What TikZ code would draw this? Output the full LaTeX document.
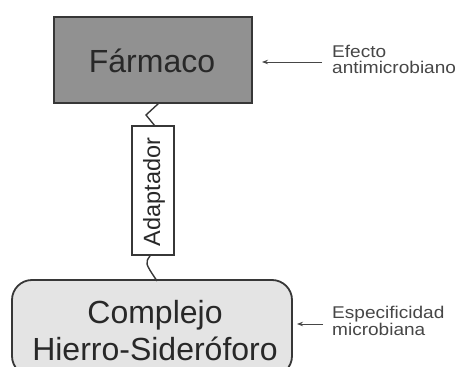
\documentclass[tikz,border=0pt]{standalone}
\usepackage{fontspec}
\setmainfont{Liberation Sans}
\newfontfamily\stretchf[FakeStretch=1.12]{Liberation Sans}
\usetikzlibrary{arrows.meta}
\definecolor{drug}{RGB}{145,145,145}
\definecolor{cplx}{RGB}{228,228,228}
\definecolor{edge}{RGB}{55,55,55}
\definecolor{txt}{RGB}{40,40,40}
\definecolor{lbl}{RGB}{70,70,70}
\begin{document}
\begin{tikzpicture}[x=1pt,y=-1pt,
  bigtext/.style={text=txt, inner sep=0pt, align=center, font=\fontsize{32}{37}\selectfont},
  boxline/.style={draw=edge, line width=1.8pt},
  side/.style={text=lbl, inner sep=0pt, align=left, anchor=west, font=\stretchf\fontsize{17}{15.6}\selectfont},
  link/.style={draw=edge, line width=1.4pt},
  pointer/.style={draw=lbl, line width=0.9pt, -{Stealth[length=6pt,width=4.5pt]}}]
\useasboundingbox (0,0) rectangle (459,367);
% Farmaco box
\node[boxline, fill=drug, minimum width=198pt, minimum height=86pt, inner sep=0pt] (farm) at (153,60) {};
\node[bigtext] (farmtxt) at (152,61) {Fármaco};
% complex box
\node[boxline, fill=cplx, rounded corners=20pt, minimum width=280pt, minimum height=96pt, inner sep=0pt] (cplx) at (152,328) {};
\node[bigtext] (cplxtxt) at (155,331) {Complejo\\Hierro-Sideróforo};
% adaptor
\node[draw=edge, line width=1.2pt, fill=white, minimum width=42pt, minimum height=129pt, inner sep=0pt] (adap) at (153,190.5) {};
\node[text=txt, inner sep=0pt, rotate=90, font=\fontsize{23.5}{26}\selectfont] (adaptxt) at (154,192) {Adaptador};
% links
\coordinate (t1) at (159,103);
\coordinate (t2) at (146,115);
\coordinate (t3) at (155,126);
\draw[link] (t1) -- (t2) -- (t3);
\coordinate (b1) at (150,256);
\coordinate (b2) at (157,281);
\draw[link] (b1) .. controls (145,263) .. (b2);
% side labels
\node[side] (efecto) at (332,59.5) {Efecto\\antimicrobiano};
\node[side] (espec) at (332,321) {Especificidad\\microbiana};
\coordinate (a1s) at (322,62);
\coordinate (a1e) at (262,62);
\draw[pointer] (a1s) -- (a1e);
\coordinate (a2s) at (323,324);
\coordinate (a2e) at (297,324);
\draw[pointer] (a2s) -- (a2e);
\end{tikzpicture}
\end{document}
